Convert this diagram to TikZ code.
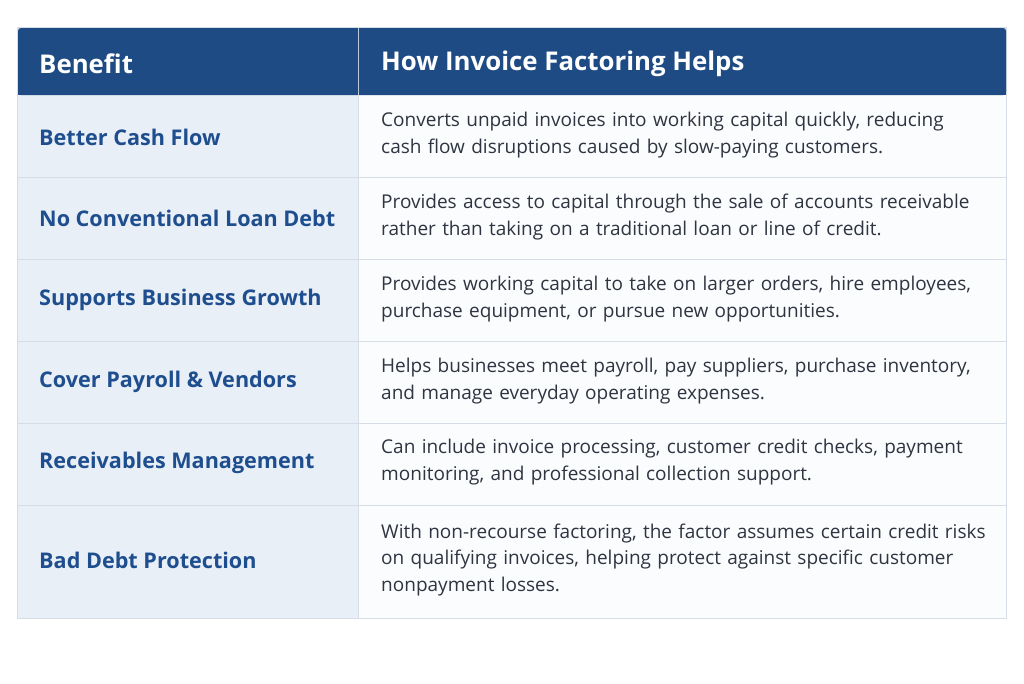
\documentclass[tikz,border=0pt]{standalone}
\usepackage{fontspec}
\setmainfont{Open Sans}
\definecolor{hdr}{HTML}{1F4B85}
\definecolor{lbl}{HTML}{1E4E8E}
\definecolor{lbg}{HTML}{E9EFF7}
\definecolor{rbg}{HTML}{FBFCFE}
\definecolor{sep}{HTML}{D6DDE6}
\definecolor{txt}{HTML}{2E3440}
\begin{document}
\begin{tikzpicture}[x=1pt,y=-1pt,
  lab/.style={anchor=west,font=\fontsize{21.6}{26}\selectfont\bfseries,text=lbl,inner sep=0},
  desc/.style={anchor=west,align=left,text width=625pt,font=\fontsize{19}{26.5}\selectfont,text=txt,inner sep=0},
  head/.style={anchor=west,font=\fontsize{25.8}{30}\selectfont\bfseries,text=white,inner sep=0}]
\useasboundingbox (0,0) rectangle (1024,683);
\fill[white] (0,0) rectangle (1024,683);
\fill[sep] (17,27) rectangle (1007,619);
\fill[rbg] (18,95) rectangle (1006,618);
\fill[lbg] (18,95) rectangle (358,618);
\fill[hdr,rounded corners=3pt] (18,28) rectangle (1006,95);
\fill[hdr] (18,60) rectangle (1006,95);
\draw[white!70!hdr,line width=0.8pt] (358,28) -- (358,95);
\draw[sep] (358,95) -- (358,618);
\foreach \y in {177,259,341,423,505} \draw[sep] (18,\y) -- (1006,\y);
\node[head] (h1) at (39,64) {Benefit};
\node[head] (h2) at (381,64) {How Invoice Factoring Helps};
\node[lab] (l1) at (39,137) {Better Cash Flow};
\node[desc] (d1) at (381,135) {Converts unpaid invoices into working capital quickly, reducing\\cash flow disruptions caused by slow-paying customers.};
\node[lab] (l2) at (39,218) {No Conventional Loan Debt};
\node[desc] (d2) at (381,217) {Provides access to capital through the sale of accounts receivable\\rather than taking on a traditional loan or line of credit.};
\node[lab] (l3) at (39,300) {Supports Business Growth};
\node[desc] (d3) at (381,299) {Provides working capital to take on larger orders, hire employees,\\purchase equipment, or pursue new opportunities.};
\node[lab] (l4) at (39,382) {Cover Payroll \& Vendors};
\node[desc] (d4) at (381,381) {Helps businesses meet payroll, pay suppliers, purchase inventory,\\and manage everyday operating expenses.};
\node[lab] (l5) at (39,463) {Receivables Management};
\node[desc] (d5) at (381,462) {Can include invoice processing, customer credit checks, payment\\monitoring, and professional collection support.};
\node[lab] (l6) at (39,560) {Bad Debt Protection};
\node[desc] (d6) at (381,560) {With non-recourse factoring, the factor assumes certain credit risks\\on qualifying invoices, helping protect against specific customer\\nonpayment losses.};
\end{tikzpicture}
\end{document}
